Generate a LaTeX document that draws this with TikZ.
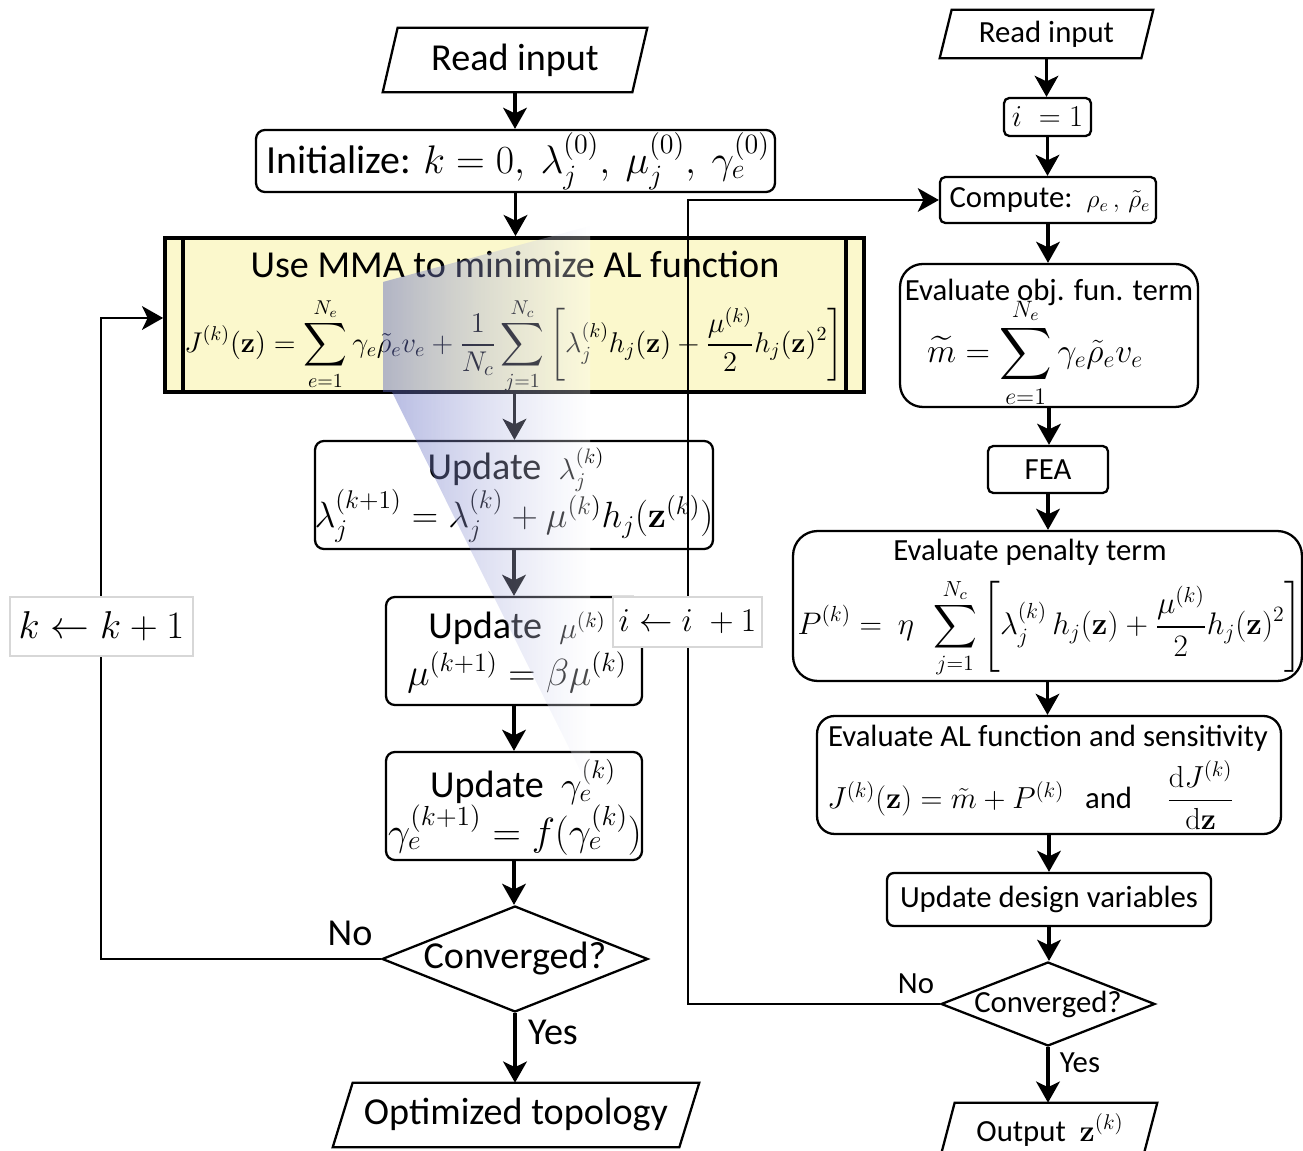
\RequirePackage{fix-cm}
\documentclass[tikz,border=0pt]{standalone}
\usepackage{amsmath}
\usepackage[no-math]{fontspec}
\setmainfont{Carlito}
\usetikzlibrary{arrows.meta,shapes.geometric,fadings}
\definecolor{mmayellow}{RGB}{251,248,204}
\definecolor{wedgeblue}{RGB}{90,100,190}
\definecolor{lblgray}{RGB}{215,215,215}
\tikzfading[name=fadeLR, left color=transparent!0, right color=transparent!100]
\tikzfading[name=fadeRL, left color=transparent!100, right color=transparent!0]
\begin{document}
\begin{tikzpicture}[x=0.02cm,y=-0.02cm,
  bx/.style={draw, line width=1.3pt, rounded corners=5pt, inner sep=0pt},
  bline/.style={draw, line width=1.3pt, line join=miter},
  tL/.style={inner sep=0pt, font=\fontsize{21.7}{26}\selectfont},
  tR/.style={inner sep=0pt, font=\fontsize{17.5}{21}\selectfont},
  arr/.style={line width=1.8pt, -{Stealth[length=12pt,width=13.5pt,inset=3.2pt]}},
  loopline/.style={line width=1.3pt, -{Stealth[length=12pt,width=13.5pt,inset=3.2pt]}},
  dia/.style={draw, diamond, line width=1.3pt, inner sep=0pt},
  incr/.style={draw=lblgray, line width=0.6pt, fill=white, inner sep=0pt}
]
\useasboundingbox (0,0) rectangle (1303,1151);
\clip (0,0) rectangle (1303,1151);

% ---------------- left column ----------------
\node[tL, minimum width=4.98cm, minimum height=1.28cm] (rinL) at (515,60) {Read input};
\draw[bline] ([xshift=0.15cm]rinL.north west) -- ([xshift=0.15cm]rinL.north east) -- ([xshift=-0.15cm]rinL.south east) -- ([xshift=-0.15cm]rinL.south west) -- cycle;

\node[bx, minimum width=10.38cm, minimum height=1.24cm] (init) at (515.5,161) {};
\node[inner sep=0pt, font=\fontsize{22.7}{27}\selectfont] (initT) at (518,161) {Initialize: $k=0,\ \lambda_j^{(0)},\ \mu_j^{(0)},\ \gamma_e^{(0)}$};

\node[draw, line width=2.2pt, fill=mmayellow, minimum width=13.98cm, minimum height=3.08cm, inner sep=0pt] (mma) at (514.5,315) {};
\draw[line width=2.2pt] ([xshift=0.4cm]mma.north west) -- ([xshift=0.4cm]mma.south west);
\draw[line width=2.2pt] ([xshift=-0.4cm]mma.north east) -- ([xshift=-0.4cm]mma.south east);
\node[tL] (mmaT) at (515,264) {Use MMA to minimize AL function};
\node[inner sep=0pt, font=\fontsize{16.25}{19}\selectfont] (mmaF) at (514,346)
  {$\displaystyle J^{(k)}(\mathbf{z}) = \sum_{e=1}^{N_e}\gamma_e\tilde{\rho}_e v_e + \frac{1}{N_c}\sum_{j=1}^{N_c}\left[\lambda_j^{(k)}h_j(\mathbf{z}) + \frac{\mu^{(k)}}{2}h_j(\mathbf{z})^2\right]$};

\node[bx, minimum width=7.96cm, minimum height=2.16cm] (ul) at (514,495) {};
\node[tL] (ulA) at (516,470) {Update\ \ {\fontsize{17}{20}\selectfont$\lambda_j^{(k)}$}};
\node[inner sep=0pt, font=\fontsize{20.8}{25}\selectfont] (ulB) at (514,516) {$\lambda_j^{(k+1)} = \lambda_j^{(k)} + \mu^{(k)}h_j(\mathbf{z}^{(k)})$};

\node[bx, minimum width=5.12cm, minimum height=2.16cm] (um) at (514,651) {};
\node[tL] (umA) at (517,628) {Update\ \ {\fontsize{17}{20}\selectfont$\mu^{(k)}$}};
\node[inner sep=0pt, font=\fontsize{21.5}{26}\selectfont] (umB) at (517,672) {$\mu^{(k+1)} = \beta\mu^{(k)}$};

\node[bx, minimum width=5.12cm, minimum height=2.16cm] (ug) at (514,806) {};
\node[tL] (ugA) at (523,782) {Update\ \ {\fontsize{20.8}{25}\selectfont$\gamma_e^{(k)}$}};
\node[inner sep=0pt, font=\fontsize{22.4}{26}\selectfont] (ugB) at (515,830) {$\gamma_e^{(k+1)} = f(\gamma_e^{(k)})$};

\node[dia, minimum width=5.32cm, minimum height=2.12cm] (dL) at (515,959) {};
\node[tL] (dLT) at (515,959) {Converged?};

\node[tL, minimum width=6.92cm, minimum height=1.28cm] (opt) at (516,1115) {Optimized topology};
\draw[bline] ([xshift=0.2cm]opt.north west) -- ([xshift=0.2cm]opt.north east) -- ([xshift=-0.2cm]opt.south east) -- ([xshift=-0.2cm]opt.south west) -- cycle;

\node[tL] (noL) at (350,933) {No};
\node[tL] (yesL) at (553,1032) {Yes};

\draw[arr] (rinL.south) -- (rinL.south |- init.north);
\draw[arr] (init.south) -- (init.south |- mma.north);
\draw[arr] (mma.south) -- (mma.south |- ul.north);
\draw[arr] (ul.south) -- (ul.south |- um.north);
\draw[arr] (um.south) -- (um.south |- ug.north);
\draw[arr] (ug.south) -- (ug.south |- dL.north);
\draw[arr] (dL.south) -- (dL.south |- opt.north);

\coordinate (kTurn) at (101,318);
\draw[loopline, line width=1.5pt] (dL.west) -| (kTurn) -- (kTurn -| mma.west);

% ---------------- right column ----------------
\node[tR, minimum width=4.02cm, minimum height=0.96cm] (rinR) at (1046.5,34) {Read input};
\draw[bline] ([xshift=0.12cm]rinR.north west) -- ([xshift=0.12cm]rinR.north east) -- ([xshift=-0.12cm]rinR.south east) -- ([xshift=-0.12cm]rinR.south west) -- cycle;

\node[bx, rounded corners=3pt, minimum width=1.74cm, minimum height=0.76cm] (i1) at (1047.5,117) {};
\node[inner sep=0pt, font=\fontsize{17.3}{20}\selectfont] (i1T) at (1047.5,117) {$i\;=1$};

\node[bx, rounded corners=3pt, minimum width=4.32cm, minimum height=0.92cm] (comp) at (1048,200) {};
\node[inner sep=0pt, font=\fontsize{17.5}{20}\selectfont] (compT) at (1050,200) {Compute:\hspace{8pt}{\fontsize{14.5}{17}\selectfont$\rho_e\,,\,\tilde{\rho}_e$}};

\node[bx, rounded corners=13pt, minimum width=5.96cm, minimum height=2.86cm] (obj) at (1049,335.5) {};
\node[tR] (objT) at (1049,292) {Evaluate obj. fun. term};
\node[inner sep=0pt, font=\fontsize{19.3}{23}\selectfont] (objF) at (1035,353) {$\displaystyle \widetilde{m} = \sum_{e=1}^{N_e}\gamma_e\tilde{\rho}_e v_e$};

\node[bx, rounded corners=3pt, minimum width=2.4cm, minimum height=0.94cm] (fea) at (1048,469.5) {};
\node[tR] (feaT) at (1048,470) {FEA};

\node[bx, rounded corners=14pt, minimum width=10.18cm, minimum height=3.0cm] (pen) at (1047.5,606) {};
\node[tR] (penT) at (1030,552) {Evaluate penalty term};
\node[inner sep=0pt, font=\fontsize{17.75}{21}\selectfont] (penF) at (1050,628) {$\displaystyle P^{(k)} =\ \eta\ \ \sum_{j=1}^{N_c}\left[\lambda_j^{(k)}\,h_j(\mathbf{z}) + \frac{\mu^{(k)}}{2}h_j(\mathbf{z})^2\right]$};

\node[bx, rounded corners=10pt, minimum width=9.28cm, minimum height=2.36cm] (al) at (1049,775) {};
\node[tR] (alT) at (1048,738) {Evaluate AL function and sensitivity};
\node[tR] (alF) at (1031,795) {{\fontsize{17.3}{20}\selectfont$J^{(k)}(\mathbf{z}) = \tilde{m} + P^{(k)}$}\ \ \ and\ \ \ \ \ {\fontsize{17.3}{20}\selectfont$\dfrac{\mathrm{d}J^{(k)}}{\mathrm{d}\mathbf{z}}$}};

\node[bx, rounded corners=4pt, minimum width=6.48cm, minimum height=1.06cm] (udv) at (1049,899.5) {};
\node[tR] (udvT) at (1049,899) {Update design variables};

\node[dia, minimum width=4.28cm, minimum height=1.68cm] (dR) at (1048,1004) {};
\node[tR] (dRT) at (1048,1004) {Converged?};

\node[tR, minimum width=4.04cm, minimum height=1.28cm] (out) at (1047.5,1135) {};
\draw[bline] ([xshift=0.17cm]out.north west) -- ([xshift=0.17cm]out.north east) -- ([xshift=-0.17cm]out.south east) -- ([xshift=-0.17cm]out.south west) -- cycle;
\node[tR] (outT) at (1050,1130) {Output\ \ {\fontsize{17.3}{20}\selectfont$\mathbf{z}^{(k)}$}};

\node[tR] (noR) at (916,984) {No};
\node[tR] (yesR) at (1080,1063) {Yes};

\draw[arr] (rinR.south) -- (rinR.south |- i1.north);
\draw[arr] (i1.south) -- (i1.south |- comp.north);
\draw[arr] (comp.south) -- (comp.south |- obj.north);
\draw[arr] (obj.south) -- (obj.south |- fea.north);
\draw[arr] (fea.south) -- (fea.south |- pen.north);
\draw[arr] (pen.south) -- (pen.south |- al.north);
\draw[arr] (al.south) -- (al.south |- udv.north);
\draw[arr] (udv.south) -- (udv.south |- dR.north);
\draw[arr] (dR.south) -- (dR.south |- out.north);

\coordinate (iTurn) at (688,200);
\draw[loopline] (dR.west) -| (iTurn) -- (iTurn -| comp.west);

% ---------------- counter labels ----------------
\node[incr, minimum width=3.66cm, minimum height=1.18cm, font=\fontsize{22.1}{26}\selectfont] (kinc) at (101.5,626.5) {$k \leftarrow k+1$};
\node[incr, minimum width=2.98cm, minimum height=1.0cm, font=\fontsize{19}{22}\selectfont] (iinc) at (687.5,622) {$i \leftarrow i\;+1$};

% ---------------- translucent wedge ----------------
\fill[wedgeblue, opacity=0.45, path fading=fadeLR] (383,282) -- (590,226) -- (590,790) -- (392,392) -- (383,392) -- cycle;
\fill[white, opacity=0.3, path fading=fadeRL] (383,282) -- (590,226) -- (590,790) -- (392,392) -- (383,392) -- cycle;
\end{tikzpicture}
\end{document}
